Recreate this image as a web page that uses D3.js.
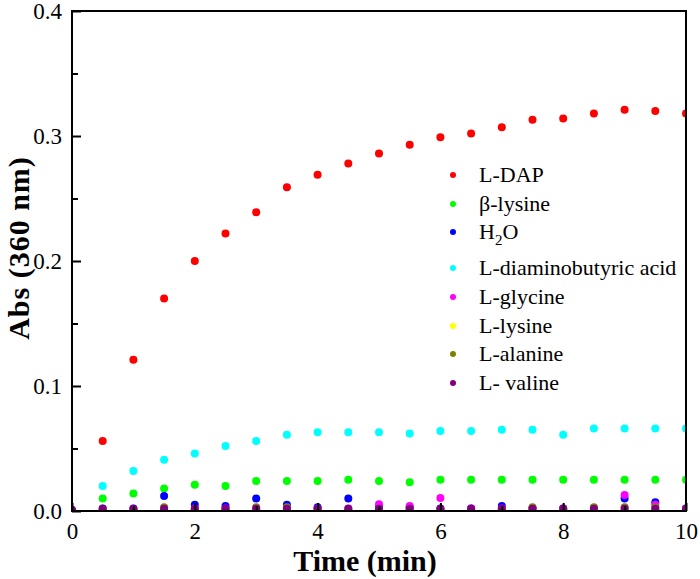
<!DOCTYPE html>
<html>
<head>
<meta charset="utf-8">
<script src="https://cdn.jsdelivr.net/npm/d3@7"></script>
<style>
  html, body { margin: 0; padding: 0; background: #ffffff; }
  svg { display: block; }
</style>
</head>
<body>
<svg id="chart" width="700" height="579"></svg>
<script>
// ---- data ----
const times = [0, 0.5, 1, 1.5, 2, 2.5, 3, 3.5, 4, 4.5, 5, 5.5, 6, 6.5, 7, 7.5, 8, 8.5, 9, 9.5, 10];
const seriesNames = ["L-DAP", "β-lysine", "H2O", "L-diaminobutyric acid", "L-glycine", "L-lysine", "L-alanine", "L- valine"];
const seriesColors = ["#ff0000", "#00ff00", "#0000ff", "#00ffff", "#ff00ff", "#ffff00", "#808000", "#800080"];
const lDAP      = [0, 0.056, 0.121, 0.170, 0.200, 0.222, 0.239, 0.259, 0.269, 0.278, 0.286, 0.293, 0.299, 0.302, 0.307, 0.313, 0.314, 0.318, 0.321, 0.320, 0.318];
const betaLys   = [0, 0.010, 0.014, 0.018, 0.021, 0.020, 0.024, 0.024, 0.024, 0.025, 0.024, 0.023, 0.025, 0.025, 0.025, 0.025, 0.025, 0.025, 0.025, 0.025, 0.025];
const water     = [0, 0.002, 0.002, 0.012, 0.005, 0.004, 0.010, 0.005, 0.003, 0.010, 0.003, 0.003, 0.002, 0.002, 0.004, 0.002, 0.002, 0.002, 0.010, 0.007, 0.002];
const diamino   = [0, 0.020, 0.032, 0.041, 0.046, 0.052, 0.056, 0.061, 0.063, 0.063, 0.063, 0.062, 0.064, 0.064, 0.065, 0.065, 0.061, 0.066, 0.066, 0.066, 0.066];
const glycine   = [0, 0.001, 0.001, 0.001, 0.002, 0.002, 0.002, 0.002, 0.002, 0.002, 0.0055, 0.004, 0.0104, 0.002, 0.002, 0.002, 0.002, 0.002, 0.0128, 0.005, 0.002];
const lysine    = [0, 0.001, 0.001, 0.001, 0.001, 0.001, 0.001, 0.001, 0.001, 0.001, 0.001, 0.001, 0.001, 0.001, 0.001, 0.001, 0.001, 0.001, 0.001, 0.001, 0.001];
const alanine   = [0, 0.001, 0.001, 0.003, 0.001, 0.001, 0.003, 0.003, 0.001, 0.001, 0.001, 0.001, 0.001, 0.001, 0.001, 0.003, 0.001, 0.003, 0.003, 0.003, 0.001];
const valine    = [0.001, 0.0018, 0.0018, 0.0018, 0.0018, 0.0018, 0.0018, 0.0018, 0.0018, 0.0018, 0.0018, 0.0018, 0.0018, 0.0018, 0.0018, 0.0018, 0.0018, 0.0018, 0.0018, 0.0018, 0.0018];
const seriesValues = [lDAP, betaLys, water, diamino, glycine, lysine, alanine, valine];
const xTicks = [0, 2, 4, 6, 8, 10];
const xMinorTicks = [1, 3, 5, 7, 9];
const yTicks = [0, 0.1, 0.2, 0.3, 0.4];
const yMinorTicks = [0.05, 0.15, 0.25, 0.35];

// ---- layout ----
const svg = d3.select("#chart");
const pLeft = 72, pRight = 686, pTop = 11, pBottom = 511;
const x = d3.scaleLinear().domain([0, 10]).range([pLeft, pRight]);
const y = d3.scaleLinear().domain([0, 0.4]).range([pBottom, pTop]);
const font = "'Liberation Serif', 'Times New Roman', serif";

svg.append("defs").append("clipPath").attr("id", "plotclip")
  .append("rect").attr("x", pLeft).attr("y", pTop).attr("width", pRight - pLeft).attr("height", pBottom - pTop);

// points
const plot = svg.append("g").attr("clip-path", "url(#plotclip)");
seriesValues.forEach((vals, si) => {
  plot.append("g").selectAll("circle")
    .data(vals.map((v, i) => ({ t: times[i], v: v })))
    .join("circle")
    .attr("cx", d => x(d.t))
    .attr("cy", d => y(d.v))
    .attr("r", 4)
    .attr("fill", seriesColors[si]);
});

// axes
const xAxis = svg.append("g").attr("transform", `translate(0,${pBottom})`)
  .call(d3.axisBottom(x).tickValues(xTicks).tickFormat(d3.format("d")).tickSize(-8).tickPadding(12));
const xMinor = svg.append("g").attr("transform", `translate(0,${pBottom})`)
  .call(d3.axisBottom(x).tickValues(xMinorTicks).tickFormat("").tickSize(-5));
const yAxis = svg.append("g").attr("transform", `translate(${pLeft},0)`)
  .call(d3.axisLeft(y).tickValues(yTicks).tickFormat(d3.format(".1f")).tickSize(-9).tickPadding(10));
const yMinor = svg.append("g").attr("transform", `translate(${pLeft},0)`)
  .call(d3.axisLeft(y).tickValues(yMinorTicks).tickFormat("").tickSize(-6));

[xAxis, xMinor, yAxis, yMinor].forEach(g => {
  g.select(".domain").remove();
  g.selectAll(".tick line").attr("stroke", "#000").attr("stroke-width", 2);
  g.selectAll(".tick text").attr("fill", "#000").style("font-family", font).style("font-size", "23px");
});

// frame
svg.append("rect").attr("x", pLeft).attr("y", pTop).attr("width", pRight - pLeft).attr("height", pBottom - pTop)
  .attr("fill", "none").attr("stroke", "#000").attr("stroke-width", 2);

// axis titles
svg.append("text").attr("x", 365).attr("y", 571).attr("text-anchor", "middle")
  .style("font-family", font).style("font-size", "30px").style("font-weight", "bold").text("Time (min)");
svg.append("text").attr("transform", "translate(29,248) rotate(-90)").attr("text-anchor", "middle")
  .style("font-family", font).style("font-size", "30px").style("font-weight", "bold")
  .style("letter-spacing", "1px").text("Abs (360 nm)");

// legend
const legendY = [175, 204, 232, 268, 297, 326, 354, 383];
const legend = svg.append("g");
seriesNames.forEach((name, i) => {
  legend.append("circle").attr("cx", 453).attr("cy", legendY[i]).attr("r", 3).attr("fill", seriesColors[i]);
  const t = legend.append("text").attr("x", 479).attr("y", legendY[i] + 7)
    .style("font-family", font).style("font-size", "22px").attr("fill", "#000");
  if (name === "H2O") {
    t.append("tspan").text("H");
    t.append("tspan").attr("dy", 6).style("font-size", "15px").text("2");
    t.append("tspan").attr("dy", -6).text("O");
  } else {
    t.text(name);
  }
});
</script>
</body>
</html>
